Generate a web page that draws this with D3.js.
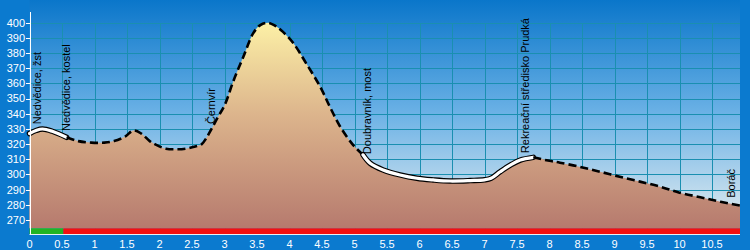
<!DOCTYPE html>
<html><head><meta charset="utf-8">
<script src="https://cdn.jsdelivr.net/npm/d3@7"></script>
<style>html,body{margin:0;padding:0;background:#0b7acf;}svg{display:block;}</style>
</head><body>
<script>
// ---- data ----
const distKm = [0, 0.1, 0.2, 0.35, 0.57, 0.75, 0.95, 1.15, 1.3, 1.47, 1.6, 1.72, 1.85, 1.95, 2.1, 2.25, 2.4, 2.55, 2.65, 2.72, 2.8, 2.9, 3.0, 3.14, 3.29, 3.44, 3.55, 3.67, 3.78, 3.9, 4.06, 4.26, 4.47, 4.62, 4.78, 4.98, 5.13, 5.24, 5.44, 5.7, 5.96, 6.21, 6.47, 6.78, 7.0, 7.1, 7.24, 7.39, 7.55, 7.75, 8.0, 8.16, 8.47, 8.78, 9.08, 9.39, 9.7, 10.0, 10.32, 10.63, 10.93];
const elevM = [327, 329, 330, 328.5, 324.5, 322, 321, 321, 322, 325, 329, 327, 322, 319.5, 317, 316.6, 317, 318.5, 320, 324, 330, 338, 345.5, 362, 377.6, 393, 398.5, 400, 398, 394, 386.5, 373, 358, 344.7, 331.5, 319.4, 313, 307.4, 303, 299.7, 297.5, 296.4, 295.7, 296, 296.5, 297.5, 301.8, 306, 309.5, 311.3, 309, 307.8, 305, 301.8, 298.5, 295.3, 292, 288, 285, 282, 279.5];
const segStartKm = [0, 0.57, 5.13, 7.75];
const segType = ["road", "path", "road", "path"];
const surfStartKm = [0, 0.52];
const surfColor = ["#22b422", "#f41010"];
const placeNames = ["Nedvědice, žst", "Nedvědice, kostel", "Černvír", "Doubravník, most", "Rekreační středisko Prudká", "Boráč"];
const placeKm = [0.12, 0.56, 2.79, 5.2, 7.62, 10.79];
const xTicks = [0, 0.5, 1, 1.5, 2, 2.5, 3, 3.5, 4, 4.5, 5, 5.5, 6, 6.5, 7, 7.5, 8, 8.5, 9, 9.5, 10, 10.5];
const yTicks = [270, 280, 290, 300, 310, 320, 330, 340, 350, 360, 370, 380, 390, 400];

// ---- layout ----
const W = 750, H = 250;
const left = 29.5, right = 740, plotTop = 0, plotBottom = 228.3;
const x = d3.scaleLinear().domain([0, 10.93]).range([left, right]);
const y = d3.scaleLinear().domain([270, 400]).range([220, 22.8]);
const pts = distKm.map((d, i) => ({d, e: elevM[i]}));

const svg = d3.select("body").append("svg").attr("width", W).attr("height", H);
const defs = svg.append("defs");
const sky = defs.append("linearGradient").attr("id", "sky").attr("gradientUnits", "userSpaceOnUse")
  .attr("x1", 0).attr("y1", plotTop).attr("x2", 0).attr("y2", plotBottom);
sky.append("stop").attr("offset", "0%").attr("stop-color", "#0a76ca");
sky.append("stop").attr("offset", "50%").attr("stop-color", "#6cb2e6");
sky.append("stop").attr("offset", "100%").attr("stop-color", "#e6eef0");
const ground = defs.append("linearGradient").attr("id", "ground").attr("gradientUnits", "userSpaceOnUse")
  .attr("x1", 0).attr("y1", y(400)).attr("x2", 0).attr("y2", plotBottom);
ground.append("stop").attr("offset", "0%").attr("stop-color", "#fcf0a6");
ground.append("stop").attr("offset", "45%").attr("stop-color", "#dcb48c");
ground.append("stop").attr("offset", "100%").attr("stop-color", "#b67a6e");

svg.append("rect").attr("width", W).attr("height", H).attr("fill", "#0b7acf");
svg.append("rect").attr("x", left).attr("y", plotTop).attr("width", right - left).attr("height", plotBottom - plotTop).attr("fill", "url(#sky)");

// grid
const grid = svg.append("g").attr("stroke", "#1a8fb0").attr("stroke-width", 1);
grid.selectAll("line.h").data(yTicks).join("line")
  .attr("x1", left).attr("x2", right).attr("y1", d => Math.round(y(d)) + 0.5).attr("y2", d => Math.round(y(d)) + 0.5);
grid.selectAll("line.v").data(xTicks.filter(d => d > 0)).join("line")
  .attr("x1", d => Math.round(x(d)) + 0.5).attr("x2", d => Math.round(x(d)) + 0.5)
  .attr("y1", Math.round(y(400))).attr("y2", plotBottom);

// area
const curve = d3.curveCatmullRom.alpha(0.5);
svg.append("path").datum(pts)
  .attr("d", d3.area().x(p => x(p.d)).y0(plotBottom).y1(p => y(p.e)).curve(curve))
  .attr("fill", "url(#ground)");

// profile line segments
const line = d3.line().x(p => x(p.d)).y(p => y(p.e)).curve(curve);
segStartKm.forEach((s, i) => {
  const end = i + 1 < segStartKm.length ? segStartKm[i + 1] : Infinity;
  const seg = pts.filter(p => p.d >= s - 1e-9 && p.d <= end + 1e-9);
  if (segType[i] === "road") {
    svg.append("path").datum(seg).attr("d", line).attr("fill", "none").attr("stroke", "#000").attr("stroke-width", 5.5).attr("stroke-linecap", "round");
    svg.append("path").datum(seg).attr("d", line).attr("fill", "none").attr("stroke", "#fff").attr("stroke-width", 3.2).attr("stroke-linecap", "round");
  } else {
    svg.append("path").datum(seg).attr("d", line).attr("fill", "none").attr("stroke", "#000").attr("stroke-width", 2.6).attr("stroke-dasharray", "8,4");
  }
});

// surface bar
surfStartKm.forEach((s, i) => {
  const end = i + 1 < surfStartKm.length ? surfStartKm[i + 1] : x.domain()[1];
  svg.append("rect").attr("x", x(s)).attr("y", plotBottom).attr("width", x(end) - x(s)).attr("height", 5.7).attr("fill", surfColor[i]);
});

// axes
svg.append("line").attr("x1", left).attr("x2", right).attr("y1", 234.5).attr("y2", 234.5).attr("stroke", "#e8f0f4").attr("stroke-width", 1);
svg.append("line").attr("x1", 30.5).attr("x2", 30.5).attr("y1", 12).attr("y2", 234.5).attr("stroke", "#fff").attr("stroke-width", 1);
const yAx = svg.append("g");
yAx.selectAll("line").data(yTicks).join("line")
  .attr("x1", 26).attr("x2", 30).attr("y1", d => Math.round(y(d)) + 0.5).attr("y2", d => Math.round(y(d)) + 0.5)
  .attr("stroke", "#fff");
yAx.selectAll("text").data(yTicks).join("text")
  .attr("x", 25).attr("y", d => y(d)).attr("dy", "0.35em").attr("text-anchor", "end")
  .attr("fill", "#fff").attr("font-family", "Liberation Sans, Arial, sans-serif").attr("font-size", 11)
  .text(d => d);
svg.append("g").selectAll("text").data(xTicks).join("text")
  .attr("x", d => x(d)).attr("y", 248).attr("text-anchor", "middle")
  .attr("fill", "#fff").attr("font-family", "Liberation Sans, Arial, sans-serif").attr("font-size", 11)
  .text(d => d);

// place labels
const elevAt = km => {
  const i = d3.bisector(p => p.d).left(pts, km);
  if (i <= 0) return pts[0].e;
  if (i >= pts.length) return pts[pts.length - 1].e;
  const a = pts[i - 1], b = pts[i];
  return a.e + (b.e - a.e) * (km - a.d) / (b.d - a.d);
};
svg.append("g").selectAll("text").data(placeNames).join("text")
  .attr("transform", (d, i) => `translate(${x(placeKm[i])},${y(elevAt(placeKm[i])) - 6}) rotate(-90)`)
  .attr("dy", "0.35em").attr("text-anchor", "start")
  .attr("fill", "#000").attr("font-family", "Liberation Sans, Arial, sans-serif").attr("font-size", 11)
  .text(d => d);
</script>
</body></html>
